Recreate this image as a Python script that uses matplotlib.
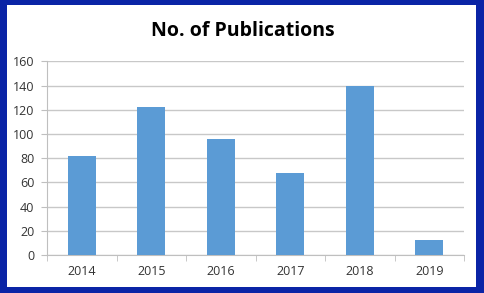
import matplotlib.pyplot as plt
from matplotlib.patches import Rectangle
from matplotlib.ticker import FixedLocator, MultipleLocator

years = ['2014', '2015', '2016', '2017', '2018', '2019']
publications = [82, 122, 96, 68, 140, 12]

plt.rcParams['font.family'] = ['Open Sans', 'DejaVu Sans']

fig = plt.figure(figsize=(4.85, 2.93), dpi=100, facecolor='#0a24a6')

# white panel inside the blue frame, kept behind the axes
fig.patches.append(Rectangle((0.0144, 0.0205), 0.967, 0.963, transform=fig.transFigure,
                             facecolor='white', edgecolor='none', zorder=-1))

ax = fig.add_axes([0.0969, 0.1297, 0.8600, 0.6607])
ax.set_facecolor('white')

x = list(range(len(years)))
ax.bar(x, publications, width=0.4, color='#5b9bd5', zorder=3)

ax.set_xlim(-0.5, len(years) - 0.5)
ax.set_ylim(0, 160)
ax.yaxis.set_major_locator(MultipleLocator(20))
ax.grid(axis='y', color='#c8c8c8', linewidth=1, zorder=0)

ax.set_xticks(x)
ax.set_xticklabels(years)
ax.xaxis.set_minor_locator(FixedLocator([i - 0.5 for i in range(len(years) + 1)]))
ax.tick_params(axis='x', which='major', length=0, pad=7, labelsize=9, labelcolor='#333333')
ax.tick_params(axis='x', which='minor', length=4, color='#bfbfbf')
ax.tick_params(axis='y', length=4, color='#bfbfbf', labelsize=9, labelcolor='#333333', pad=5)

for side in ['top', 'right']:
    ax.spines[side].set_visible(False)
for side in ['left', 'bottom']:
    ax.spines[side].set_color('#bfbfbf')

fig.text(0.5, 0.895, 'No. of Publications', ha='center', va='center',
         fontsize=14, fontweight='bold', color='black')

fig.savefig('out.png', dpi=100, facecolor=fig.get_facecolor())
